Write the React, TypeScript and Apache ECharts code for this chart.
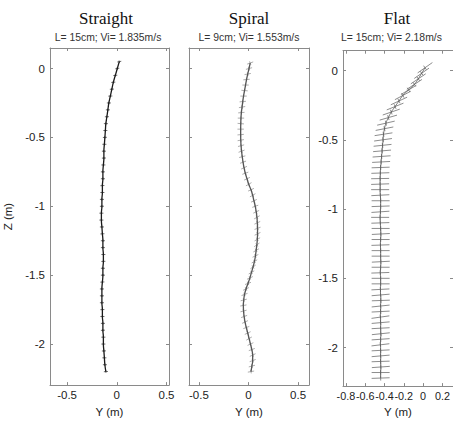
import React, { useEffect, useRef } from "react";
import * as echarts from "echarts";

// ---------- data ----------
const titles = ["Straight", "Spiral", "Flat"];
const subtitles = ["L= 15cm; Vi= 1.835m/s", "L= 9cm; Vi= 1.553m/s", "L= 15cm; Vi= 2.18m/s"];

const zTicks = [0, -0.5, -1, -1.5, -2];
const yTicksWide = [-0.5, 0, 0.5];
const yTicksFlat = [-0.8, -0.6, -0.4, -0.2, 0, 0.2];

// Straight: horizontal position Y (m), depth Z (m), mark angle (deg)
const straightZ = [0.05, 0.0, -0.05, -0.1, -0.15, -0.2, -0.25, -0.3, -0.35, -0.4, -0.45, -0.5, -0.55, -0.6, -0.65, -0.7, -0.75, -0.8, -0.85, -0.9, -0.95, -1.0, -1.05, -1.1, -1.15, -1.2, -1.25, -1.3, -1.35, -1.4, -1.45, -1.5, -1.55, -1.6, -1.65, -1.7, -1.75, -1.8, -1.85, -1.9, -1.95, -2.0, -2.05, -2.1, -2.15, -2.2];
const straightY = [0.025, 0.005, -0.015, -0.035, -0.05, -0.065, -0.08, -0.09, -0.1, -0.11, -0.115, -0.12, -0.125, -0.13, -0.13, -0.135, -0.14, -0.14, -0.145, -0.145, -0.15, -0.15, -0.155, -0.155, -0.15, -0.145, -0.14, -0.14, -0.135, -0.135, -0.14, -0.14, -0.145, -0.15, -0.15, -0.15, -0.145, -0.145, -0.14, -0.14, -0.135, -0.135, -0.13, -0.125, -0.12, -0.11];
const straightA = [10, 8, 5, 4, 3, 2, 0, 0, 2, 0, 0, 3, 0, 0, 2, 0, 0, 0, 3, 0, 0, 2, 0, 0, 0, 3, 0, 0, 0, 2, 0, 0, 3, 0, 0, 0, 2, 0, 0, 3, 0, 0, 2, 0, 0, 3];

// Spiral
const spiralZ = [0.04, 0.0, -0.04, -0.08, -0.12, -0.16, -0.2, -0.24, -0.28, -0.32, -0.36, -0.4, -0.44, -0.48, -0.52, -0.56, -0.6, -0.64, -0.68, -0.72, -0.76, -0.8, -0.84, -0.88, -0.92, -0.96, -1.0, -1.04, -1.08, -1.12, -1.16, -1.2, -1.24, -1.28, -1.32, -1.36, -1.4, -1.44, -1.48, -1.52, -1.56, -1.6, -1.64, -1.68, -1.72, -1.76, -1.8, -1.84, -1.88, -1.92, -1.96, -2.0, -2.04, -2.08, -2.12, -2.16, -2.2];
const spiralY = [0.017, 0.005, -0.008, -0.02, -0.03, -0.04, -0.05, -0.058, -0.065, -0.072, -0.076, -0.078, -0.079, -0.079, -0.078, -0.075, -0.07, -0.063, -0.055, -0.045, -0.032, -0.015, 0.002, 0.025, 0.042, 0.055, 0.068, 0.078, 0.085, 0.089, 0.091, 0.091, 0.089, 0.084, 0.077, 0.07, 0.06, 0.046, 0.03, 0.014, -0.005, -0.025, -0.04, -0.048, -0.052, -0.05, -0.044, -0.035, -0.022, -0.008, 0.006, 0.02, 0.033, 0.042, 0.042, 0.034, 0.025];
const spiralA = [20, 15, 10, 5, 0, -5, 0, 5, 10, 5, 0, -5, 0, 5, 10, 15, 20, 15, 20, 25, 20, 25, 30, 25, 30, 25, 20, 25, 30, 25, 20, 25, 30, 35, 30, 25, 30, 35, 30, 25, 20, 25, 20, 15, 10, 15, 20, 25, 20, 25, 30, 25, 20, 25, 20, 15, 10];

// Flat
const flatZ = [0.02, -0.02, -0.06, -0.1, -0.14, -0.18, -0.22, -0.26, -0.3, -0.34, -0.38, -0.42, -0.46, -0.5, -0.54, -0.58, -0.62, -0.66, -0.7, -0.74, -0.78, -0.82, -0.86, -0.9, -0.94, -0.98, -1.02, -1.06, -1.1, -1.14, -1.18, -1.22, -1.26, -1.3, -1.34, -1.38, -1.42, -1.46, -1.5, -1.54, -1.58, -1.62, -1.66, -1.7, -1.74, -1.78, -1.82, -1.86, -1.9, -1.94, -1.98, -2.02, -2.06, -2.1, -2.14, -2.18, -2.22];
const flatY = [0.02, -0.015, -0.05, -0.09, -0.15, -0.21, -0.25, -0.29, -0.33, -0.36, -0.385, -0.4, -0.41, -0.415, -0.42, -0.425, -0.43, -0.435, -0.44, -0.443, -0.445, -0.445, -0.445, -0.443, -0.44, -0.44, -0.442, -0.445, -0.443, -0.44, -0.438, -0.44, -0.442, -0.44, -0.44, -0.438, -0.44, -0.443, -0.44, -0.44, -0.442, -0.44, -0.438, -0.44, -0.44, -0.442, -0.44, -0.44, -0.438, -0.44, -0.442, -0.44, -0.44, -0.44, -0.438, -0.44, -0.44];
const flatA = [35, 35, 34, 33, 31, 28, 25, 22, 19, 16, 13, 11, 9, 8, 6, 5, 4, 3, 2, 2, 1, 2, 0, 3, 0, 2, 4, 0, 2, 0, 3, 0, 2, 0, 0, 3, 0, 2, 0, 0, 3, 5, 2, 6, 3, 8, 5, 3, 6, 4, 7, 3, 5, 2, 4, 0, 2];

// ---------- helpers ----------
const zip = (ys: number[], zs: number[], as: number[]) => ys.map((y, i) => [y, zs[i], as[i]]);

const makeMarks = (half: number, vert: number, color: string, width: number) =>
  (params: any, api: any) => {
    const a = (api.value(2) * Math.PI) / 180;
    const c = api.coord([api.value(0), api.value(1)]);
    const dx = Math.cos(a), dy = -Math.sin(a);
    return {
      type: "group",
      children: [
        { type: "line", shape: { x1: c[0] - half * dx, y1: c[1] - half * dy, x2: c[0] + half * dx, y2: c[1] + half * dy }, style: { stroke: color, lineWidth: width } },
        { type: "line", shape: { x1: c[0] - vert * dy, y1: c[1] + vert * dx, x2: c[0] + vert * dy, y2: c[1] - vert * dx }, style: { stroke: color, lineWidth: width } },
      ],
    };
  };

const labelFont = { fontFamily: "Liberation Sans, Arial, sans-serif", fontSize: 11.5, color: "#222" };
const axisLineStyle = { color: "#8a8a8a", width: 1 };

export default function App() {
  const ref = useRef<HTMLDivElement>(null);
  useEffect(() => {
    if (!ref.current) return;
    const chart = echarts.init(ref.current, null, { renderer: "svg" });

    const grids = [
      { left: 50, top: 48, width: 119, height: 345 },
      { left: 189, top: 48, width: 120, height: 345 },
      { left: 343, top: 50.7, width: 115, height: 342.6 },
    ];
    const xRanges = [[-0.672, 0.525], [-0.6, 0.61], [-0.83, 0.31]];
    const zRanges = [[-2.298, 0.149], [-2.298, 0.149], [-2.278, 0.143]];
    const xTickSets = [yTicksWide, yTicksWide, yTicksFlat];
    const xLabelSize = [11.5, 11.5, 10.8];

    const xAxes: any[] = [];
    const yAxes: any[] = [];
    grids.forEach((g, i) => {
      xAxes.push({
        type: "value", gridIndex: i, position: "bottom", min: xRanges[i][0], max: xRanges[i][1],
        name: "Y (m)", nameLocation: "middle", nameGap: 16, nameTextStyle: labelFont,
        axisLine: { show: true, onZero: false, lineStyle: axisLineStyle },
        axisTick: { show: true, inside: true, length: 3, customValues: xTickSets[i], lineStyle: axisLineStyle },
        axisLabel: { show: true, margin: 4, customValues: xTickSets[i], showMinLabel: true, showMaxLabel: true, ...labelFont, fontSize: xLabelSize[i], hideOverlap: false },
        splitLine: { show: false },
      });
      xAxes.push({
        type: "value", gridIndex: i, position: "top", min: xRanges[i][0], max: xRanges[i][1],
        axisLine: { show: true, onZero: false, lineStyle: axisLineStyle },
        axisTick: { show: true, inside: true, length: 3, customValues: xTickSets[i], lineStyle: axisLineStyle },
        axisLabel: { show: false },
        splitLine: { show: false },
      });
      yAxes.push({
        type: "value", gridIndex: i, position: "left", min: zRanges[i][0], max: zRanges[i][1],
        name: i === 0 ? "Z (m)" : "", nameLocation: "middle", nameGap: 36, nameTextStyle: labelFont,
        axisLine: { show: true, onZero: false, lineStyle: axisLineStyle },
        axisTick: { show: true, inside: true, length: 3, customValues: zTicks, lineStyle: axisLineStyle },
        axisLabel: { show: i !== 1, margin: 5, customValues: zTicks, ...labelFont },
        splitLine: { show: false },
      });
      yAxes.push({
        type: "value", gridIndex: i, position: "right", min: zRanges[i][0], max: zRanges[i][1],
        axisLine: { show: true, onZero: false, lineStyle: axisLineStyle },
        axisTick: { show: true, inside: true, length: 3, customValues: zTicks, lineStyle: axisLineStyle },
        axisLabel: { show: false },
        splitLine: { show: false },
      });
    });

    const panels = [
      { data: zip(straightY, straightZ, straightA), line: "#1a1a1a", lw: 1.3, marks: makeMarks(2, 1.2, "#444", 0.8) },
      { data: zip(spiralY, spiralZ, spiralA), line: "#555", lw: 1.3, marks: makeMarks(3.2, 1.8, "#999", 0.8) },
      { data: zip(flatY, flatZ, flatA), line: "#555", lw: 0.8, marks: makeMarks(9, 2.5, "#707070", 0.8) },
    ];
    const series: any[] = [];
    panels.forEach((p, i) => {
      series.push({
        type: "custom", xAxisIndex: i * 2, yAxisIndex: i * 2, data: p.data, encode: { x: 0, y: 1 },
        renderItem: p.marks, silent: true,
      });
      series.push({
        type: "line", xAxisIndex: i * 2, yAxisIndex: i * 2, data: p.data.map((d) => [d[0], d[1]]),
        showSymbol: false, symbol: "none", smooth: true, lineStyle: { color: p.line, width: p.lw }, silent: true,
      });
    });

    const titleX = [106, 249, 397];
    const graphic: any[] = [];
    titles.forEach((t, i) => {
      graphic.push({
        type: "text", x: titleX[i], y: 18,
        style: { text: t, align: "center", verticalAlign: "middle", textAlign: "center", textVerticalAlign: "middle", font: "17px 'Liberation Serif', 'Times New Roman', serif", fill: "#111" },
      });
    });
    const subX = [108, 249, 341];
    subtitles.forEach((t, i) => {
      const al = i === 2 ? "left" : "center";
      graphic.push({
        type: "text", x: subX[i], y: 37,
        style: { text: t, align: al, verticalAlign: "middle", textAlign: al, textVerticalAlign: "middle", font: "10.4px 'Liberation Sans', Arial, sans-serif", fill: "#333" },
      });
    });

    chart.setOption({
      animation: false,
      backgroundColor: "#fff",
      grid: grids,
      xAxis: xAxes,
      yAxis: yAxes,
      series,
      graphic,
    });
    return () => chart.dispose();
  }, []);

  return <div ref={ref} style={{ width: 453, height: 423, position: "absolute", left: 0, top: 0 }} />;
}
